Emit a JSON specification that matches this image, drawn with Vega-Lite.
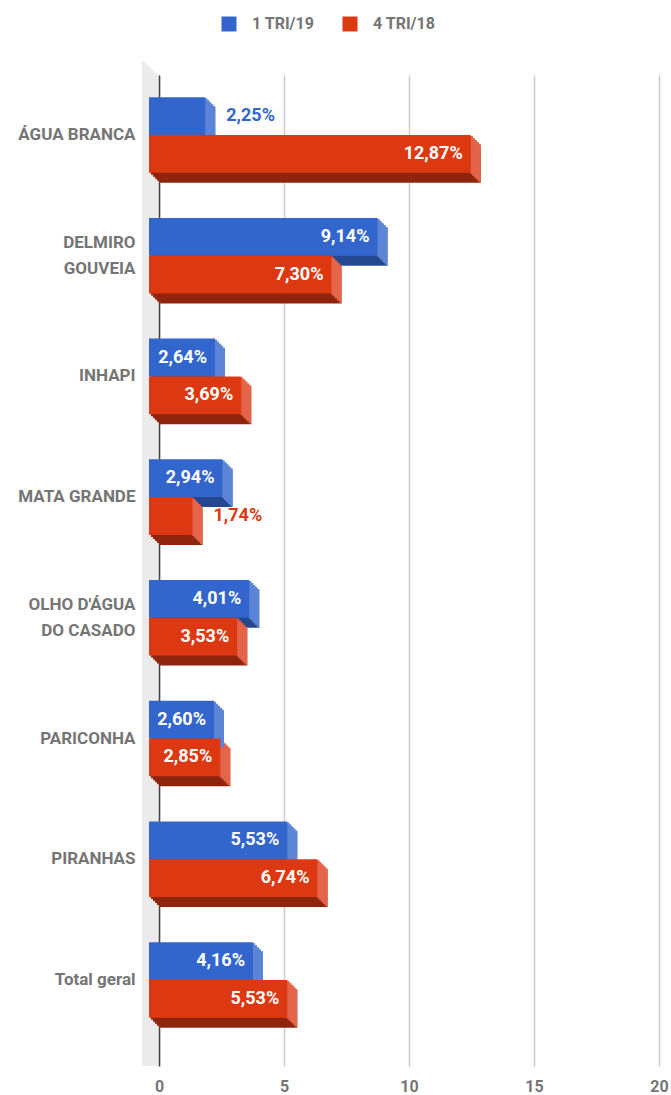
{
  "$schema": "https://vega.github.io/schema/vega-lite/v6.json",
  "width": 500,
  "height": 991,
  "autosize": {"type": "none"},
  "padding": {"left": 159, "top": 75, "right": 12, "bottom": 29},
  "background": "white",
  "config": {
    "view": {"stroke": null},
    "font": "Roboto",
    "legend": {
      "orient": "none", "legendX": 62, "legendY": -59, "direction": "horizontal",
      "symbolType": "square", "symbolSize": 225, "symbolStrokeWidth": 0,
      "labelFont": "Roboto", "labelFontWeight": "bold", "labelFontSize": 16, "labelColor": "#757575",
      "labelOffset": 15, "columnPadding": 27, "padding": 0
    }
  },
  "data": {
    "values": [
      {"municipio": "ÁGUA BRANCA", "serie": "1 TRI/19", "valor": 2.25, "rotulo": "2,25%"},
      {"municipio": "ÁGUA BRANCA", "serie": "4 TRI/18", "valor": 12.87, "rotulo": "12,87%"},
      {"municipio": "DELMIRO GOUVEIA", "serie": "1 TRI/19", "valor": 9.14, "rotulo": "9,14%"},
      {"municipio": "DELMIRO GOUVEIA", "serie": "4 TRI/18", "valor": 7.30, "rotulo": "7,30%"},
      {"municipio": "INHAPI", "serie": "1 TRI/19", "valor": 2.64, "rotulo": "2,64%"},
      {"municipio": "INHAPI", "serie": "4 TRI/18", "valor": 3.69, "rotulo": "3,69%"},
      {"municipio": "MATA GRANDE", "serie": "1 TRI/19", "valor": 2.94, "rotulo": "2,94%"},
      {"municipio": "MATA GRANDE", "serie": "4 TRI/18", "valor": 1.74, "rotulo": "1,74%"},
      {"municipio": "OLHO D'ÁGUA DO CASADO", "serie": "1 TRI/19", "valor": 4.01, "rotulo": "4,01%"},
      {"municipio": "OLHO D'ÁGUA DO CASADO", "serie": "4 TRI/18", "valor": 3.53, "rotulo": "3,53%"},
      {"municipio": "PARICONHA", "serie": "1 TRI/19", "valor": 2.60, "rotulo": "2,60%"},
      {"municipio": "PARICONHA", "serie": "4 TRI/18", "valor": 2.85, "rotulo": "2,85%"},
      {"municipio": "PIRANHAS", "serie": "1 TRI/19", "valor": 5.53, "rotulo": "5,53%"},
      {"municipio": "PIRANHAS", "serie": "4 TRI/18", "valor": 6.74, "rotulo": "6,74%"},
      {"municipio": "Total geral", "serie": "1 TRI/19", "valor": 4.16, "rotulo": "4,16%"},
      {"municipio": "Total geral", "serie": "4 TRI/18", "valor": 5.53, "rotulo": "5,53%"}
    ]
  },
  "layer": [
    {"transform": [{"filter": "datum.municipio == 'Total geral' && datum.serie == '1 TRI/19'"}],
     "mark": {"type": "rect", "color": "#ebebeb", "xOffset": -17, "x2Offset": -14.5, "yOffset": -14, "y2Offset": -14},
     "encoding": {"x": {"datum": 0, "type": "quantitative"}, "x2": {"datum": 0}}},
    {"transform": [{"filter": "datum.municipio == 'Total geral' && datum.serie == '1 TRI/19'"}],
     "mark": {"type": "rect", "color": "#ebebeb", "xOffset": -15, "x2Offset": -12.5, "yOffset": -12, "y2Offset": -12},
     "encoding": {"x": {"datum": 0, "type": "quantitative"}, "x2": {"datum": 0}}},
    {"transform": [{"filter": "datum.municipio == 'Total geral' && datum.serie == '1 TRI/19'"}],
     "mark": {"type": "rect", "color": "#ebebeb", "xOffset": -13, "x2Offset": -10.5, "yOffset": -10, "y2Offset": -10},
     "encoding": {"x": {"datum": 0, "type": "quantitative"}, "x2": {"datum": 0}}},
    {"transform": [{"filter": "datum.municipio == 'Total geral' && datum.serie == '1 TRI/19'"}],
     "mark": {"type": "rect", "color": "#ebebeb", "xOffset": -11, "x2Offset": -8.5, "yOffset": -8, "y2Offset": -8},
     "encoding": {"x": {"datum": 0, "type": "quantitative"}, "x2": {"datum": 0}}},
    {"transform": [{"filter": "datum.municipio == 'Total geral' && datum.serie == '1 TRI/19'"}],
     "mark": {"type": "rect", "color": "#ebebeb", "xOffset": -9, "x2Offset": -6.5, "yOffset": -6, "y2Offset": -6},
     "encoding": {"x": {"datum": 0, "type": "quantitative"}, "x2": {"datum": 0}}},
    {"transform": [{"filter": "datum.municipio == 'Total geral' && datum.serie == '1 TRI/19'"}],
     "mark": {"type": "rect", "color": "#ebebeb", "xOffset": -7, "x2Offset": -4.5, "yOffset": -4.5, "y2Offset": -4.5},
     "encoding": {"x": {"datum": 0, "type": "quantitative"}, "x2": {"datum": 0}}},
    {"transform": [{"filter": "datum.municipio == 'Total geral' && datum.serie == '1 TRI/19'"}],
     "mark": {"type": "rect", "color": "#ebebeb", "xOffset": -5, "x2Offset": -2.5, "yOffset": -2.5, "y2Offset": -2.5},
     "encoding": {"x": {"datum": 0, "type": "quantitative"}, "x2": {"datum": 0}}},
    {"transform": [{"filter": "datum.municipio == 'Total geral' && datum.serie == '1 TRI/19'"}],
     "mark": {"type": "rect", "color": "#ebebeb", "xOffset": -3, "x2Offset": -1, "yOffset": -1, "y2Offset": -1},
     "encoding": {"x": {"datum": 0, "type": "quantitative"}, "x2": {"datum": 0}}},
    {
      "encoding": {
        "y": {
          "field": "municipio", "type": "nominal", "sort": null,
          "scale": {"paddingInner": 0.374, "paddingOuter": 0.292, "align": 0.315},
          "axis": {
            "title": null, "ticks": false, "labelPadding": 24, "domainColor": "#424242", "domainWidth": 1.5,
            "labelFont": "Roboto", "labelFontWeight": "bold", "labelFontSize": 17, "labelColor": "#757575",
            "labelLineHeight": 26, "labelLimit": 200,
            "labelOffset": {"condition": {"test": "datum.value == 'DELMIRO GOUVEIA' || indexof(datum.value, 'CASADO') >= 0", "value": -13}, "value": 0},
            "labelExpr": "datum.value == 'DELMIRO GOUVEIA' ? ['DELMIRO', 'GOUVEIA'] : (indexof(datum.value, 'CASADO') >= 0 ? [\"OLHO D'ÁGUA\", 'DO CASADO'] : datum.value)"
          }
        }
      },
      "layer": [
        {"mark": {"type": "bar", "height": {"band": 0.5}, "xOffset": 0, "x2Offset": 0, "yOffset": {"expr": "(datum.serie == '1 TRI/19' ? -18.89 : 18.89) + 10"}},
         "encoding": {"x": {"field": "valor", "type": "quantitative", "title": null}, "x2": {"datum": 0},
           "color": {"condition": {"test": "datum.serie == '1 TRI/19'", "value": "#24478f"}, "value": "#8f250e"}}},
        {"mark": {"type": "bar", "height": {"band": 0.5}, "xOffset": -2, "x2Offset": -2, "yOffset": {"expr": "(datum.serie == '1 TRI/19' ? -18.89 : 18.89) + 8"}},
         "encoding": {"x": {"field": "valor", "type": "quantitative", "title": null}, "x2": {"datum": 0},
           "color": {"condition": {"test": "datum.serie == '1 TRI/19'", "value": "#24478f"}, "value": "#8f250e"}}},
        {"mark": {"type": "bar", "height": {"band": 0.5}, "xOffset": -4, "x2Offset": -4, "yOffset": {"expr": "(datum.serie == '1 TRI/19' ? -18.89 : 18.89) + 6"}},
         "encoding": {"x": {"field": "valor", "type": "quantitative", "title": null}, "x2": {"datum": 0},
           "color": {"condition": {"test": "datum.serie == '1 TRI/19'", "value": "#24478f"}, "value": "#8f250e"}}},
        {"mark": {"type": "bar", "height": {"band": 0.5}, "xOffset": -6, "x2Offset": -6, "yOffset": {"expr": "(datum.serie == '1 TRI/19' ? -18.89 : 18.89) + 4"}},
         "encoding": {"x": {"field": "valor", "type": "quantitative", "title": null}, "x2": {"datum": 0},
           "color": {"condition": {"test": "datum.serie == '1 TRI/19'", "value": "#24478f"}, "value": "#8f250e"}}},
        {"mark": {"type": "bar", "height": {"band": 0.5}, "xOffset": -8, "x2Offset": -8, "yOffset": {"expr": "(datum.serie == '1 TRI/19' ? -18.89 : 18.89) + 2"}},
         "encoding": {"x": {"field": "valor", "type": "quantitative", "title": null}, "x2": {"datum": 0},
           "color": {"condition": {"test": "datum.serie == '1 TRI/19'", "value": "#24478f"}, "value": "#8f250e"}}},
        {"mark": {"type": "bar", "height": {"band": 0.5}, "xOffset": -10.6, "x2Offset": -8, "yOffset": {"expr": "(datum.serie == '1 TRI/19' ? -18.89 : 18.89) + 1"}},
         "encoding": {"x": {"field": "valor", "type": "quantitative", "title": null}, "x2": {"field": "valor"},
           "color": {"condition": {"test": "datum.serie == '1 TRI/19'", "value": "#5c85d6"}, "value": "#e4654a"}}},
        {"mark": {"type": "bar", "height": {"band": 0.5}, "xOffset": -8.6, "x2Offset": -6, "yOffset": {"expr": "(datum.serie == '1 TRI/19' ? -18.89 : 18.89) + 3"}},
         "encoding": {"x": {"field": "valor", "type": "quantitative", "title": null}, "x2": {"field": "valor"},
           "color": {"condition": {"test": "datum.serie == '1 TRI/19'", "value": "#5c85d6"}, "value": "#e4654a"}}},
        {"mark": {"type": "bar", "height": {"band": 0.5}, "xOffset": -6.6, "x2Offset": -4, "yOffset": {"expr": "(datum.serie == '1 TRI/19' ? -18.89 : 18.89) + 5"}},
         "encoding": {"x": {"field": "valor", "type": "quantitative", "title": null}, "x2": {"field": "valor"},
           "color": {"condition": {"test": "datum.serie == '1 TRI/19'", "value": "#5c85d6"}, "value": "#e4654a"}}},
        {"mark": {"type": "bar", "height": {"band": 0.5}, "xOffset": -4.6, "x2Offset": -2, "yOffset": {"expr": "(datum.serie == '1 TRI/19' ? -18.89 : 18.89) + 7"}},
         "encoding": {"x": {"field": "valor", "type": "quantitative", "title": null}, "x2": {"field": "valor"},
           "color": {"condition": {"test": "datum.serie == '1 TRI/19'", "value": "#5c85d6"}, "value": "#e4654a"}}},
        {"mark": {"type": "bar", "height": {"band": 0.5}, "xOffset": -2.6, "x2Offset": 0, "yOffset": {"expr": "(datum.serie == '1 TRI/19' ? -18.89 : 18.89) + 9"}},
         "encoding": {"x": {"field": "valor", "type": "quantitative", "title": null}, "x2": {"field": "valor"},
           "color": {"condition": {"test": "datum.serie == '1 TRI/19'", "value": "#5c85d6"}, "value": "#e4654a"}}},
        {"mark": {"type": "bar", "height": {"band": 0.5}, "xOffset": -10, "x2Offset": -10, "yOffset": {"expr": "datum.serie == '1 TRI/19' ? -18.89 : 18.89"}},
         "encoding": {
           "x": {"field": "valor", "type": "quantitative", "title": null,
             "scale": {"domain": [0, 20], "nice": false},
             "axis": {"title": null, "values": [0, 5, 10, 15, 20], "domain": false, "ticks": false, "grid": true,
               "gridColor": "#cccccc", "gridWidth": 1.5, "labelFont": "Roboto", "labelFontWeight": "bold",
               "labelFontSize": 16, "labelColor": "#757575", "labelPadding": 12, "labelFlush": false}},
           "x2": {"datum": 0},
           "color": {"field": "serie", "type": "nominal", "title": null,
             "scale": {"domain": ["1 TRI/19", "4 TRI/18"], "range": ["#3366cc", "#dc3912"]}}}},
        {"transform": [{"filter": "datum.valor >= 2.5"}],
         "mark": {"type": "text", "align": "right", "baseline": "middle", "xOffset": -18, "yOffset": {"expr": "datum.serie == '1 TRI/19' ? -18.89 : 18.89"}, "color": "white",
           "font": "Roboto", "fontWeight": "bold", "fontSize": 18},
         "encoding": {"x": {"field": "valor", "type": "quantitative", "title": null}, "text": {"field": "rotulo"}}},
        {"transform": [{"filter": "datum.valor < 2.5"}],
         "mark": {"type": "text", "align": "left", "baseline": "middle", "xOffset": 11, "yOffset": {"expr": "datum.serie == '1 TRI/19' ? -18.89 : 18.89"},
           "font": "Roboto", "fontWeight": "bold", "fontSize": 18},
         "encoding": {"x": {"field": "valor", "type": "quantitative", "title": null}, "text": {"field": "rotulo"},
           "color": {"condition": {"test": "datum.serie == '1 TRI/19'", "value": "#3366cc"}, "value": "#dc3912"}}}
      ]
    }
  ]
}
